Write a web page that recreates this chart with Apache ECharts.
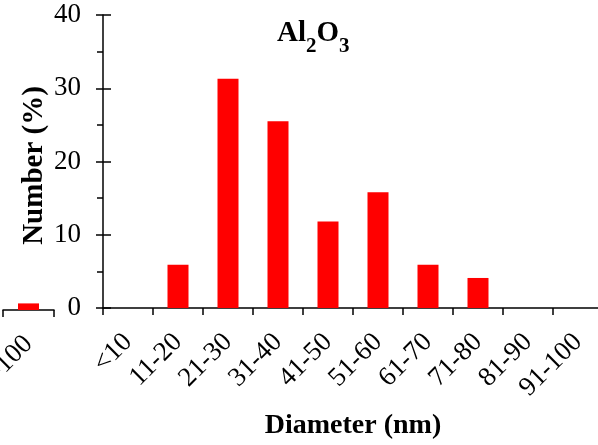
<!DOCTYPE html>
<html>
<head>
<meta charset="utf-8">
<script src="https://cdn.jsdelivr.net/npm/echarts@6/dist/echarts.min.js"></script>
<style>
  html, body { margin: 0; padding: 0; background: #fff; }
  #chart { width: 598px; height: 445px; }
</style>
</head>
<body>
<div id="chart"></div>
<script>
let categories = ['<10', '11-20', '21-30', '31-40', '41-50', '51-60', '61-70', '71-80', '81-90', '91-100'];
let numbers = [0, 5.9, 31.3, 25.5, 11.8, 15.8, 5.9, 4.1, 0, 0];

// edge of the neighbouring panel, only its last bin is visible
let prevCategories = ['91-100'];
let prevNumbers = [0.9];

let yTicks = [0, 10, 20, 30, 40];

let font = '"Liberation Serif", "Times New Roman", serif';

let chart = echarts.init(document.getElementById('chart'));

function xAxisBase(gridIndex, data) {
    return {
        type: 'category',
        gridIndex: gridIndex,
        data: data,
        axisLine: { lineStyle: { color: '#000', width: 1.5 } },
        axisTick: { show: true, length: 7, lineStyle: { color: '#000', width: 1.5 } },
        axisLabel: {
            rotate: 45, interval: 0, margin: 30,
            color: '#000', fontFamily: font, fontSize: 27
        },
        splitLine: { show: false }
    };
}

let mainX = xAxisBase(0, categories);
mainX.name = 'Diameter (nm)';
mainX.nameLocation = 'middle';
mainX.nameGap = 104;
mainX.nameMoveOverlap = false;
mainX.nameTextStyle = { color: '#000', fontFamily: font, fontSize: 28, fontWeight: 'bold' };

let option = {
    animation: false,
    backgroundColor: '#fff',
    title: {
        text: '{m|Al}{s|2}{m|O}{s|3}',
        left: 277,
        top: 19,
        padding: 0,
        textStyle: {
            rich: {
                m: {
                    color: '#000', fontFamily: font, fontSize: 29, fontWeight: 'bold',
                    verticalAlign: 'top'
                },
                s: {
                    color: '#000', fontFamily: font, fontSize: 21, fontWeight: 'bold',
                    lineHeight: 38, verticalAlign: 'bottom'
                }
            }
        }
    },
    grid: [
        { left: 103, right: -5, top: 15, bottom: 137, outerBoundsMode: 'none' },
        { left: 3, width: 51, top: 17, bottom: 135, outerBoundsMode: 'none' }
    ],
    xAxis: [mainX, xAxisBase(1, prevCategories)],
    yAxis: [
        {
            type: 'value',
            gridIndex: 0,
            min: yTicks[0], max: yTicks[yTicks.length - 1], interval: 10,
            name: 'Number (%)',
            nameLocation: 'middle',
            nameGap: 54,
            nameMoveOverlap: false,
            nameTextStyle: {
                color: '#000', fontFamily: font, fontSize: 29, fontWeight: 'bold',
                padding: [0, 8, 0, 0]
            },
            axisLine: { show: true, lineStyle: { color: '#000', width: 1.5 } },
            axisTick: { show: true, length: 7, lineStyle: { color: '#000', width: 1.5 } },
            minorTick: { show: true, splitNumber: 2, length: 6, lineStyle: { color: '#000', width: 1.5 } },
            axisLabel: {
                margin: 22, color: '#000', fontFamily: font, fontSize: 27,
                padding: [10, 0, 0, 0]
            },
            splitLine: { show: false }
        },
        {
            // same scale again, only to draw the inner half of the major ticks
            type: 'value',
            gridIndex: 0,
            position: 'left',
            min: yTicks[0], max: yTicks[yTicks.length - 1], interval: 10,
            axisLine: { show: false },
            axisTick: { show: true, inside: true, length: 8, lineStyle: { color: '#000', width: 1.5 } },
            axisLabel: { show: false },
            splitLine: { show: false }
        },
        {
            type: 'value',
            gridIndex: 1,
            min: 0, max: 40,
            show: false
        }
    ],
    series: [
        {
            type: 'bar',
            xAxisIndex: 0, yAxisIndex: 0,
            data: numbers,
            barWidth: 21,
            itemStyle: { color: '#ff0000' }
        },
        {
            type: 'bar',
            xAxisIndex: 1, yAxisIndex: 2,
            data: prevNumbers,
            barWidth: 21,
            itemStyle: { color: '#ff0000' }
        }
    ]
};

chart.setOption(option);
</script>
</body>
</html>
